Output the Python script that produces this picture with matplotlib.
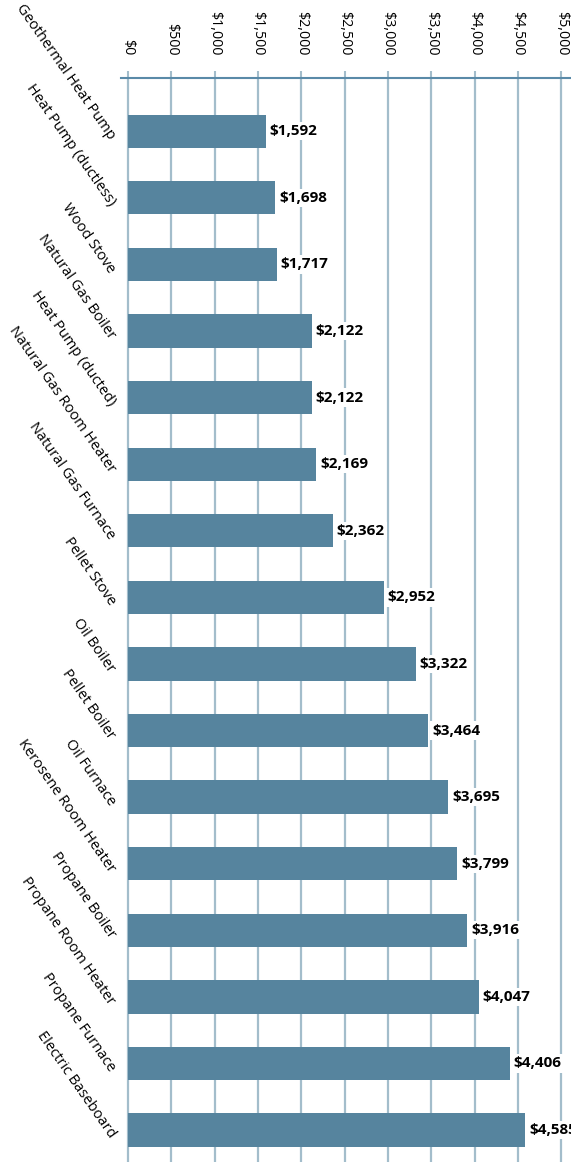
import matplotlib.pyplot as plt
import matplotlib.transforms as mtransforms

# heating systems, cheapest first
systems = [
    "Geothermal Heat Pump", "Heat Pump (ductless)", "Wood Stove",
    "Natural Gas Boiler", "Heat Pump (ducted)", "Natural Gas Room Heater",
    "Natural Gas Furnace", "Pellet Stove", "Oil Boiler", "Pellet Boiler",
    "Oil Furnace", "Kerosene Room Heater", "Propane Boiler",
    "Propane Room Heater", "Propane Furnace", "Electric Baseboard",
]
costs = [1592, 1698, 1717, 2122, 2122, 2169, 2362, 2952, 3322, 3464,
         3695, 3799, 3916, 4047, 4406, 4585]
ticks = [0, 500, 1000, 1500, 2000, 2500, 3000, 3500, 4000, 4500, 5000]

bar_color = "#56849e"
grid_color = "#a3bdcb"
line_color = "#5a8aa8"

plt.rcParams['font.family'] = ['Open Sans', 'DejaVu Sans']

fig = plt.figure(figsize=(5.71, 11.62), dpi=100)
ax = fig.add_axes([121 / 571, 0, 450 / 571, 1 - 78 / 1162])

pos = list(range(len(systems)))
ax.barh(pos, costs, height=0.5, color=bar_color, zorder=3)

for p, c in zip(pos, costs):
    ax.text(c + 45, p, "${:,}".format(c), va='center', ha='left',
            fontsize=11, fontweight='bold', color='black', zorder=4,
            bbox=dict(facecolor='white', edgecolor='none', pad=1.5))

ax.set_xlim(-80, 5110)
ax.set_ylim(15.48, -0.8)

ax.xaxis.tick_top()
ax.set_xticks(ticks)
ax.set_xticklabels(["${:,}".format(t) for t in ticks], rotation=-90,
                   fontsize=10.3, va='bottom', ha='center')
ax.tick_params(axis='x', length=5, width=1.5, color=grid_color, pad=11.5)
ax.grid(axis='x', color=grid_color, linewidth=1.6, zorder=0)

# slanted category names, nudged a little below each bar's centre
ax.set_yticks(pos)
ax.set_yticklabels(systems, fontsize=10.5, rotation=-55, va='center',
                   rotation_mode='anchor')
ax.tick_params(axis='y', length=0, pad=6.5)
shift = mtransforms.ScaledTranslation(0, -0.07, fig.dpi_scale_trans)
for lbl in ax.get_yticklabels():
    lbl.set_horizontalalignment('right')
    lbl.set_transform(lbl.get_transform() + shift)

for side in ['bottom', 'left', 'right']:
    ax.spines[side].set_visible(False)
ax.spines['top'].set_color(line_color)
ax.spines['top'].set_linewidth(1.5)

fig.savefig("out.png", dpi=100)
